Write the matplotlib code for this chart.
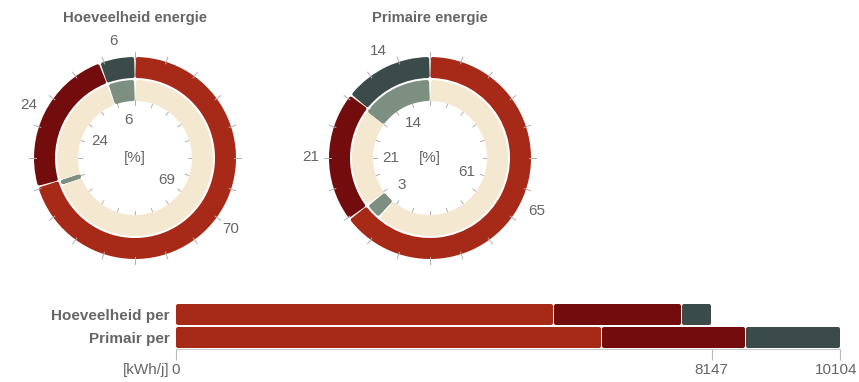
import matplotlib
matplotlib.use("Agg")
import matplotlib.pyplot as plt
import matplotlib.transforms as mtransforms
import numpy as np

plt.rcParams['font.family'] = ['Liberation Sans', 'DejaVu Sans']

# ---- data ----
titles = ["Hoeveelheid energie", "Primaire energie"]
outer_hv = [70.4, 23.9, 5.7]              # [%] outer ring
inner_hv = [69.4, 1.0, 23.9, 5.7]         # [%] inner ring
outer_pr = [64.7, 21.0, 14.3]
inner_pr = [61.3, 3.4, 20.8, 0.2, 14.3]
inner_hv_kind = ["a", "b", "a", "b"]
inner_pr_kind = ["a", "b", "a", "b", "b"]

bar_cats = ["Hoeveelheid per", "Primair per"]
bar_hv = [5736, 1945, 466]                # kWh/j
bar_pr = [6480, 2173, 1451]
bar_ticks = [0, 8147, 10104]
unit = "[kWh/j]"

# ---- style ----
c_outer = ["#a62a17", "#730c0c", "#3b4b4a"]
c_inner = {"a": "#f5e8d1", "b": "#7c8f80"}
txt = "#666666"
W, H = 859, 382

fig = plt.figure(figsize=(W / 100, H / 100), dpi=100)


def px_axes(x0, top, w, h):
    return fig.add_axes([x0 / W, 1 - (top + h) / H, w / W, h / H])


def round_wedges(wedges, colors, d=0.02, gap=0.012):
    # rounded corners: shrink wedge and stroke it with its own colour
    for w, c in zip(wedges, colors):
        rmid = w.r - w.width / 2
        dt = np.degrees((d + gap / 2) / rmid)
        t1, t2 = w.theta1, w.theta2
        span = t2 - t1
        if span - 2 * dt < 0.3:
            m = (t1 + t2) / 2
            t1, t2 = m - 0.15, m + 0.15
        else:
            t1, t2 = t1 + dt, t2 - dt
        w.set_theta1(t1)
        w.set_theta2(t2)
        w.set_radius(w.r - d)
        w.set_width(w.width - 2 * d)
        w.set_facecolor(c)
        w.set_edgecolor(c)
        w.set_linewidth(2 * d * 100 * 0.72)
        w.set_joinstyle("round")


def donut(cx, cy, title, outer, inner, kinds):
    ax = px_axes(cx - 110, cy - 110, 220, 220)
    ax.axis("off")

    # ticks every 5 %
    for k in range(20):
        a = np.radians(90 - k * 18)
        ax.plot([0.99 * np.cos(a), 1.06 * np.cos(a)], [0.99 * np.sin(a), 1.06 * np.sin(a)],
                color="#b0b0b0", lw=0.7, zorder=3)
        ax.plot([0.53 * np.cos(a), 0.59 * np.cos(a)], [0.53 * np.sin(a), 0.59 * np.sin(a)],
                color="#b0b0b0", lw=0.7, zorder=1)

    wo, _ = ax.pie(outer, radius=1.01, startangle=90, counterclock=False,
                   wedgeprops=dict(width=0.21))
    round_wedges(wo, c_outer)
    wi, _ = ax.pie(inner, radius=0.78, startangle=90, counterclock=False,
                   wedgeprops=dict(width=0.21))
    round_wedges(wi, [c_inner[k] for k in kinds])
    for w in wo + wi:
        w.set_zorder(2)
    ax.set_xlim(-1.1, 1.1)
    ax.set_ylim(-1.1, 1.1)

    # labels
    cum = np.cumsum([0] + list(outer))
    for v, s in zip(outer, cum):
        a = np.radians(90 - (s + v / 2) * 3.6)
        ax.text(1.19 * np.cos(a), 1.19 * np.sin(a), f"{round(v)}", ha="center",
                va="center", color=txt, fontsize=11)
    cum = np.cumsum([0] + list(inner))
    for v, s in zip(inner, cum):
        if v < 2:
            continue
        a = np.radians(90 - (s + v / 2) * 3.6)
        ax.text(0.39 * np.cos(a), 0.39 * np.sin(a), f"{round(v)}", ha="center",
                va="center", color=txt, fontsize=11)
    ax.text(0, 0, "[%]", ha="center", va="center", color=txt, fontsize=11)
    fig.text(cx / W, 1 - 18 / H, title, ha="center", va="center", color=txt,
             fontsize=10.7, fontweight="bold")


donut(135, 158, titles[0], outer_hv, inner_hv, inner_hv_kind)
donut(430, 158, titles[1], outer_pr, inner_pr, inner_pr_kind)

# ---- stacked bars ----
bx = px_axes(175.5, 303, 665, 46)
bx.set_xlim(0, bar_ticks[-1])
bx.set_ylim(1.5, -0.5)
ux = bar_ticks[-1] / 665.0
uy = 2 / 46.0
for i, vals in enumerate([bar_hv, bar_pr]):
    left = 0
    for v, c in zip(vals, c_outer):
        r = bx.barh(i, v, left=left, height=0.9, color=c)[0]
        r.set_x(r.get_x() + 2.5 * ux)
        r.set_width(r.get_width() - 5 * ux)
        r.set_y(r.get_y() + 2 * uy)
        r.set_height(r.get_height() - 4 * uy)
        r.set_edgecolor(c)
        r.set_linewidth(4 * 0.72)
        r.set_joinstyle("round")
        left += v

for s in ["top", "right", "left"]:
    bx.spines[s].set_visible(False)
bx.spines["bottom"].set_color("#cccccc")
bx.set_yticks([0, 1])
bx.set_yticklabels(bar_cats, fontweight="bold", color=txt, fontsize=11)
bx.tick_params(axis="y", length=0, pad=4)
bx.set_xticks(bar_ticks)
bx.set_xticklabels([str(t) for t in bar_ticks], color=txt, fontsize=11)
bx.tick_params(axis="x", length=8, color="#bbbbbb", width=0.8, pad=2)
last = bx.xaxis.get_major_ticks()[-1].label1
last.set_transform(last.get_transform() +
                   mtransforms.ScaledTranslation(-4 / 100, 0, fig.dpi_scale_trans))
fig.text(170 / W, 1 - 370 / H, unit, ha="right", va="center", color=txt, fontsize=11)

fig.savefig("out.png", dpi=100)
